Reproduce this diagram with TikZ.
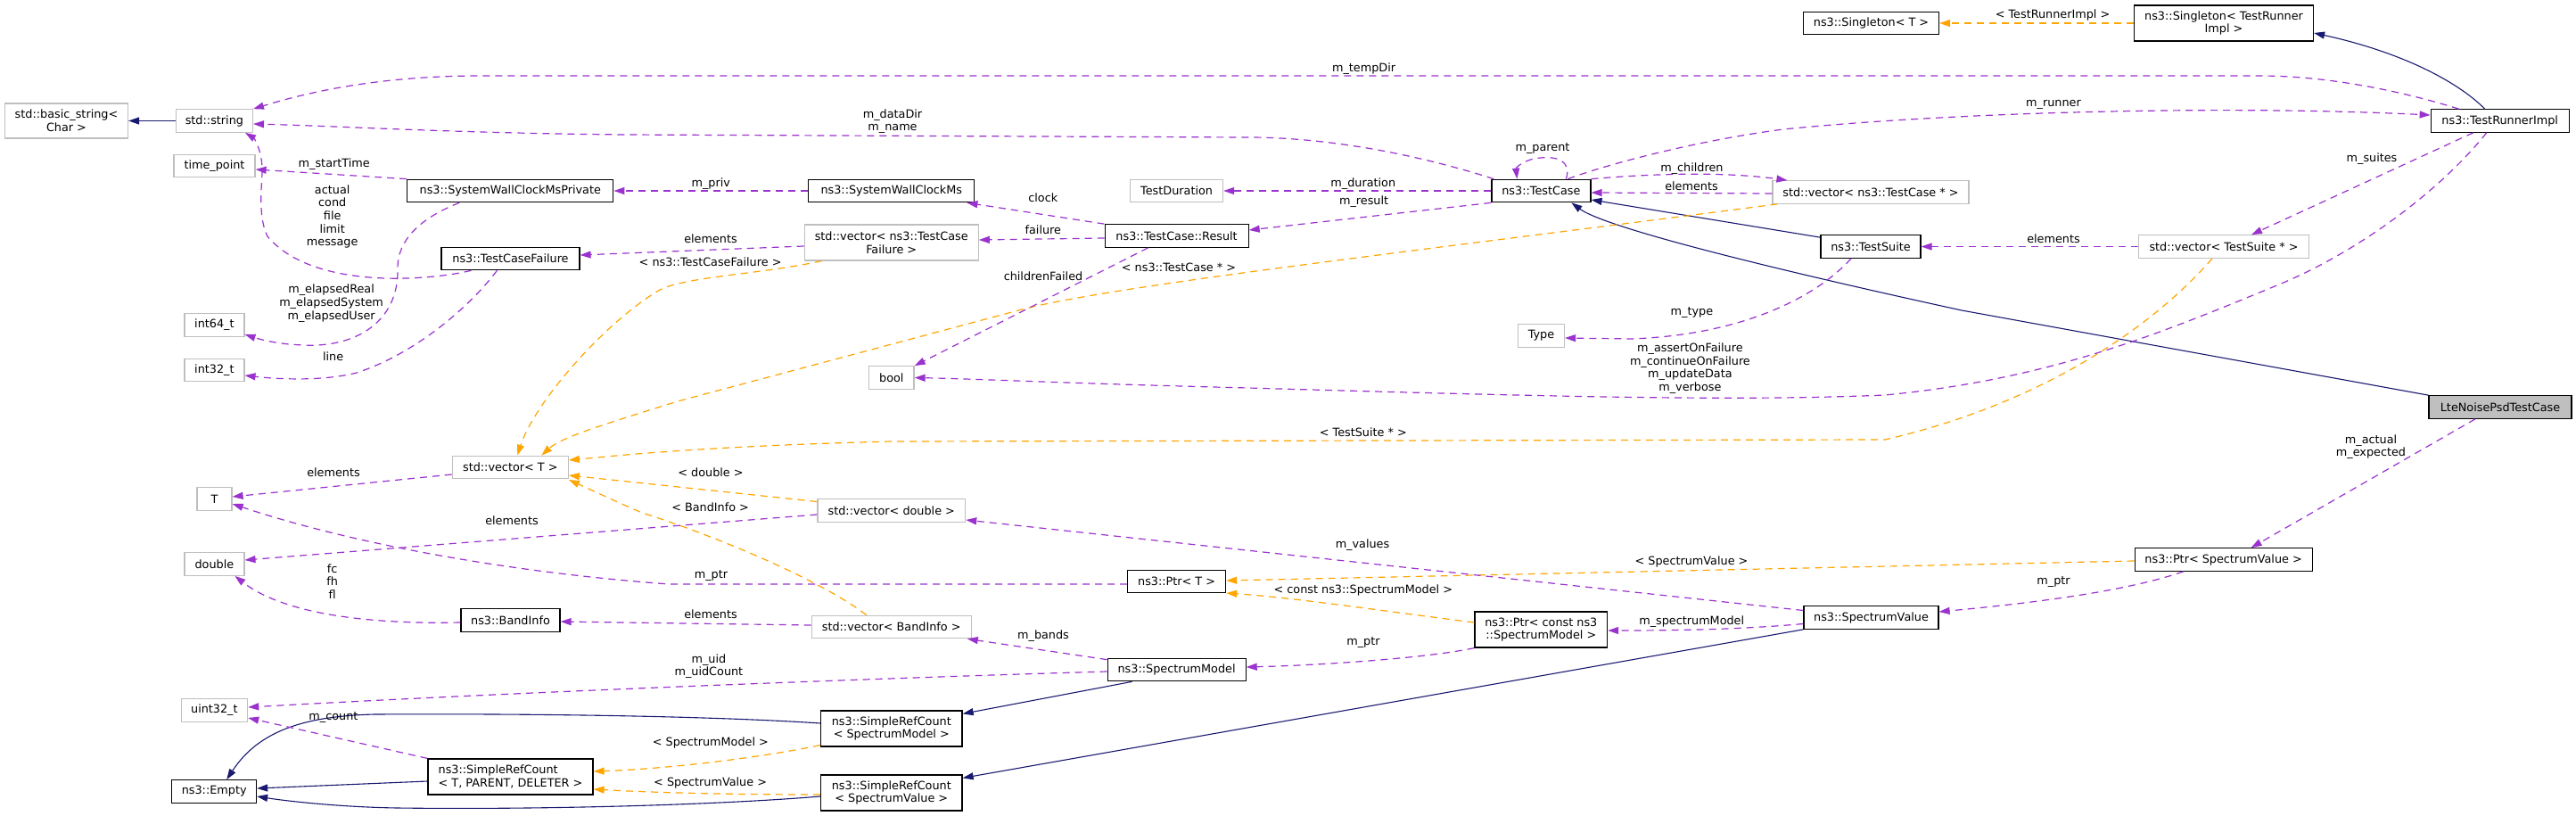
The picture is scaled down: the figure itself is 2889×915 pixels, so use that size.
\documentclass[tikz,border=0pt]{standalone}
\usepackage{fontspec}
\setmainfont{DejaVu Sans}
\usetikzlibrary{arrows.meta}
\definecolor{usecolor}{rgb}{0.604,0.196,0.804}
\definecolor{tplcolor}{rgb}{1.000,0.647,0.000}
\definecolor{inhcolor}{rgb}{0.098,0.098,0.439}
\definecolor{extcolor}{rgb}{0.749,0.749,0.749}
\tikzset{
  cls/.style={draw=black, fill=white, line width=1.2bp, minimum height=25.5bp, inner sep=0pt, align=center},
  extcls/.style={cls, draw=extcolor},
  maincls/.style={cls, fill=extcolor},
  usage/.style={draw=usecolor, line width=1.2bp, dash pattern=on 8bp off 6bp, -{Triangle[length=12bp,width=8bp]}},
  tmpl/.style={usage, draw=tplcolor},
  inh/.style={draw=inhcolor, line width=1.1bp, -{Triangle[length=12bp,width=8bp]}},
  lbl/.style={inner sep=0pt, align=center}
}
\begin{document}
\begin{tikzpicture}[x=1bp, y=-1bp, font=\fontsize{12.8bp}{14.7bp}\selectfont]
\fill[white] (0,0) rectangle (2889,915);
\useasboundingbox (0,0) rectangle (2889,915);
% column 1
\node[extcls, minimum width=138bp, minimum height=39bp] (bstr) at (74.5,135.5) {std::basic\_string<\\Char >};
\node[extcls, minimum width=86bp] (str) at (240.4,135.5) {std::string};
\node[extcls, minimum width=91bp] (tp) at (240.5,186) {time\_point};
\node[extcls, minimum width=67bp] (i64) at (240.4,364.5) {int64\_t};
\node[extcls, minimum width=67bp] (i32) at (240.4,415) {int32\_t};
\node[extcls, minimum width=39bp] (Tn) at (240.5,559.5) {T};
\node[extcls, minimum width=67bp] (dbl) at (240.4,632.5) {double};
\node[extcls, minimum width=74.5bp] (u32) at (240.4,796.5) {uint32\_t};
\node[cls, minimum width=94.7bp] (empty) at (240.2,887.5) {ns3::Empty};
% column 2
\node[cls, minimum width=231bp] (swcp) at (572.3,214) {ns3::SystemWallClockMsPrivate};
\node[cls, minimum width=155bp] (tcf) at (572.5,290) {ns3::TestCaseFailure};
\node[extcls, minimum width=130bp] (vecT) at (572.3,524) {std::vector< T >};
\node[cls, minimum width=111bp] (band) at (572.5,695.5) {ns3::BandInfo};
\node[cls, minimum width=185bp, minimum height=40bp, align=left] (srcT) at (572.5,871) {ns3::SimpleRefCount\\< T, PARENT, DELETER >};
% column 3
\node[cls, minimum width=186bp] (swc) at (999.8,214) {ns3::SystemWallClockMs};
\node[extcls, minimum width=195bp, minimum height=40bp] (vtcf) at (999.7,272) {std::vector< ns3::TestCase\\Failure >};
\node[extcls, minimum width=50.5bp] (bl) at (999.8,423.5) {bool};
\node[extcls, minimum width=165.6bp] (vdbl) at (999.8,572.5) {std::vector< double >};
\node[extcls, minimum width=179bp] (vband) at (999.7,703) {std::vector< BandInfo >};
\node[cls, minimum width=158.5bp, minimum height=40bp] (srcSM) at (999.8,817) {ns3::SimpleRefCount\\< SpectrumModel >};
\node[cls, minimum width=158.5bp, minimum height=40bp] (srcSV) at (999.8,889) {ns3::SimpleRefCount\\< SpectrumValue >};
% column 4
\node[extcls, minimum width=104bp] (tdur) at (1319.6,214) {TestDuration};
\node[cls, minimum width=161bp] (res) at (1319.6,264.5) {ns3::TestCase::Result};
\node[cls, minimum width=110bp] (ptrT) at (1319.6,652) {ns3::Ptr< T >};
\node[cls, minimum width=155bp] (sm) at (1319.6,751) {ns3::SpectrumModel};
% column 5
\node[cls, minimum width=111bp] (tc) at (1728.4,214) {ns3::TestCase};
\node[extcls, minimum width=52bp] (type) at (1728.5,376.5) {Type};
\node[cls, minimum width=148.6bp, minimum height=40bp] (ptrCSM) at (1728.3,706) {ns3::Ptr< const ns3\\::SpectrumModel >};
% column 6
\node[cls, minimum width=152bp] (sgT) at (2098.5,26) {ns3::Singleton< T >};
\node[extcls, minimum width=220bp] (vtc) at (2098,215.5) {std::vector< ns3::TestCase * >};
\node[cls, minimum width=112bp] (ts) at (2098,276.5) {ns3::TestSuite};
\node[cls, minimum width=151bp] (sv) at (2098.5,692.5) {ns3::SpectrumValue};
% column 7
\node[cls, minimum width=201bp, minimum height=40bp] (sgTR) at (2494,26) {ns3::Singleton< TestRunner\\Impl >};
\node[extcls, minimum width=191bp] (vts) at (2494,276.5) {std::vector< TestSuite * >};
\node[cls, minimum width=199bp] (ptrSV) at (2493.6,627.5) {ns3::Ptr< SpectrumValue >};
% column 8
\node[cls, minimum width=155bp] (tri) at (2803.7,135.5) {ns3::TestRunnerImpl};
\node[maincls, minimum width=160bp] (lte) at (2804,456.5) {LteNoisePsdTestCase};

% inheritance
\draw[inh] (str.west) -- (bstr.east);
\draw[inh] ([yshift=-3bp]ts.north west) -- ([yshift=-10bp]tc.east);
\draw[inh] (lte.north west) -- (2200,348) .. controls (1980,300) and (1800,255) .. ([xshift=34bp]tc.south);
\draw[inh] ([xshift=-17bp]tri.north) .. controls (2760,95) and (2700,60) .. ([yshift=-11bp]sgTR.east);
\draw[inh] ([yshift=-5bp]srcT.west) -- ([yshift=3.5bp]empty.east);
\draw[inh] ([yshift=6bp]srcSM.west) .. controls (800,803) and (600,800) .. (420,801) .. controls (340,803) and (290,820) .. ([xshift=14bp]empty.north);
\draw[inh] ([yshift=-4bp]srcSV.west) .. controls (800,903) and (600,908) .. (446,906) .. controls (380,905) and (320,898) .. ([yshift=-5.5bp]empty.east);
\draw[inh] ([xshift=-50bp]sm.south) -- ([yshift=-4bp]srcSM.north east);
\draw[inh] (sv.south west) -- ([yshift=-4bp]srcSV.north east);

% template instances
\draw[tmpl] (sgTR.west) -- (sgT.east);
\node[lbl] (l-sgt) at (2302,17) {< TestRunnerImpl >};
\draw[tmpl] ([xshift=6bp]vtc.south west) .. controls (1600,280) and (1250,320) .. (1146,347) -- (760,450) .. controls (680,475) and (630,490) .. ([xshift=35bp]vecT.north);
\node[lbl] (l-vtc) at (1322,300) {< ns3::TestCase * >};
\draw[tmpl] ([xshift=20bp]vtcf.south west) .. controls (850,308) and (770,310) .. (740,325) .. controls (680,360) and (600,450) .. ([xshift=8bp]vecT.north);
\node[lbl] (l-vtcf) at (796.6,294) {< ns3::TestCaseFailure >};
\draw[tmpl] ([xshift=-13bp]vts.south) .. controls (2420,360) and (2300,450) .. (2114,493) -- (1000,495) .. controls (800,500) and (700,510) .. ([yshift=8bp]vecT.east);
\node[lbl] (l-vts) at (1528.8,485) {< TestSuite * >};
\draw[tmpl] ([yshift=10bp]vdbl.west) -- ([yshift=-9bp]vecT.east);
\node[lbl] (l-vdbl) at (797,530) {< double >};
\draw[tmpl] ([xshift=-28bp]vband.north) .. controls (920,650) and (800,600) .. (720,575) .. controls (690,562) and (660,548) .. ([yshift=-14bp]vecT.east);
\node[lbl] (l-vband) at (796.6,569) {< BandInfo >};
\draw[tmpl] ([yshift=2bp]srcSM.south west) .. controls (850,850) and (750,862) .. ([yshift=6bp]srcT.east);
\node[lbl] (l-srcsm) at (796.9,833) {< SpectrumModel >};
\draw[tmpl] ([yshift=-2bp]srcSV.west) .. controls (800,891) and (720,888) .. ([yshift=-14bp]srcT.east);
\node[lbl] (l-srcsv) at (796.6,878) {< SpectrumValue >};
\draw[tmpl] ([yshift=8bp]ptrCSM.west) .. controls (1550,685) and (1450,670) .. ([yshift=-13bp]ptrT.east);
\node[lbl] (l-ptrcsm) at (1528.8,662) {< const ns3::SpectrumModel >};
\draw[tmpl] ([yshift=-1.5bp]ptrSV.west) -- ([yshift=1bp]ptrT.east);
\node[lbl] (l-ptrsv) at (1897,630) {< SpectrumValue >};

% members
\draw[usage] ([xshift=32bp]tri.north west) .. controls (2680,98) and (2600,85) .. (2534,85) -- (540,85) .. controls (420,85) and (340,105) .. (str.north east);
\node[lbl] (l-tempdir) at (1529.6,77) {m\_tempDir};
\draw[usage] ([xshift=3bp]tc.north west) .. controls (1580,170) and (1480,154) .. (1400,154) -- (700,151) .. controls (500,149) and (400,142) .. ([yshift=-3.5bp]str.east);
\node[lbl] (l-datadir) at (1001,136) {m\_dataDir\\m\_name};
\draw[usage] (swcp.north west) -- ([yshift=-4bp]tp.east);
\node[lbl] (l-start) at (374.7,184) {m\_startTime};
\draw[usage] ([xshift=34bp]tcf.south west) .. controls (480,315) and (350,325) .. (300,265) .. controls (290,245) and (293,215) .. (294,195) .. controls (295,170) and (285,155) .. ([xshift=-9bp]str.south east);
\node[lbl] (l-actual) at (372.7,243) {actual\\cond\\file\\limit\\message};
\draw[usage] ([xshift=59bp]swcp.south west) .. controls (470,245) and (446,270) .. (446,300) .. controls (448,360) and (400,390) .. (340,387) .. controls (310,386) and (290,380) .. ([yshift=-10.5bp]i64.east);
\node[lbl] (l-elapsed) at (371.6,340) {m\_elapsedReal\\m\_elapsedSystem\\m\_elapsedUser};
\draw[usage] ([xshift=63bp]tcf.south west) .. controls (530,340) and (470,395) .. (400,418) .. controls (360,428) and (310,425) .. ([yshift=-6bp]i32.east);
\node[lbl] (l-line) at (373.6,400) {line};
\draw[usage] (swc.west) -- (swcp.east);
\node[lbl] (l-priv) at (797.3,206) {m\_priv};
\draw[usage] (res.north west) -- ([xshift=-9bp]swc.south east);
\node[lbl] (l-clock) at (1169.8,222) {clock};
\draw[usage] ([yshift=-2.5bp]res.west) -- ([yshift=3bp]vtcf.east);
\node[lbl] (l-failure) at (1169.8,258) {failure};
\draw[usage] ([yshift=-4bp]vtcf.west) -- ([yshift=4bp]tcf.east);
\node[lbl] (l-elemtcf) at (797,268) {elements};
\draw[usage] (tc.west) -- (tdur.east);
\node[lbl] (l-duration) at (1528.8,206) {m\_duration};
\draw[usage] (tc.south west) -- ([yshift=6.5bp]res.east);
\node[lbl] (l-result) at (1529.6,226) {m\_result};
\draw[usage] ([xshift=28bp]tc.north) .. controls (1763,180) and (1745,175) .. (1728,177) .. controls (1710,178) and (1700,188) .. ([xshift=-27bp]tc.north);
\node[lbl] (l-parent) at (1730,167) {m\_parent};
\draw[usage] (tc.north east) .. controls (1850,195) and (1930,192) .. ([xshift=17bp]vtc.north west);
\node[lbl] (l-children) at (1897.4,189) {m\_children};
\draw[usage] ([yshift=-1.5bp]vtc.west) -- ([yshift=-2bp]tc.east);
\node[lbl] (l-elemtc) at (1897,209) {elements};
\draw[usage] ([xshift=30bp]tc.north) .. controls (1800,185) and (1900,158) .. (2000,145) .. controls (2200,125) and (2500,118) .. ([yshift=6.5bp]tri.west);
\node[lbl] (l-runner) at (2303,117) {m\_runner};
\draw[usage] ([xshift=-30bp]tri.south) -- ([xshift=31bp]vts.north);
\node[lbl] (l-suites) at (2660,178) {m\_suites};
\draw[usage] (vts.west) -- (ts.east);
\node[lbl] (l-elemts) at (2303,268) {elements};
\draw[usage] ([xshift=-22bp]ts.south) .. controls (2040,330) and (1960,375) .. (1830,380) -- ([yshift=-2.5bp]type.east);
\node[lbl] (l-type) at (1897.4,351) {m\_type};
\draw[usage] ([xshift=-15bp]tri.south) .. controls (2740,210) and (2650,280) .. (2556,319) .. controls (2420,375) and (2300,425) .. (2114,443) .. controls (1950,450) and (1750,445) .. (1400,435) .. controls (1200,430) and (1100,425) .. (bl.east);
\node[lbl] (l-flags) at (1895.4,413) {m\_assertOnFailure\\m\_continueOnFailure\\m\_updateData\\m\_verbose};
\draw[usage] ([xshift=-32bp]res.south) -- (bl.north east);
\node[lbl] (l-childfail) at (1170,310) {childrenFailed};
\draw[usage] ([yshift=-8bp]vecT.west) -- ([yshift=2.5bp]Tn.east);
\node[lbl] (l-elemT) at (374,530) {elements};
\draw[usage] ([yshift=-3bp]ptrT.west) -- (750,655) .. controls (550,640) and (380,605) .. ([yshift=-5.5bp]Tn.east);
\node[lbl] (l-ptrT) at (797.5,646) {m\_ptr};
\draw[usage] ([yshift=-4.5bp]vdbl.west) -- ([yshift=4.5bp]dbl.east);
\node[lbl] (l-elemdbl) at (574,584) {elements};
\draw[usage] ([yshift=-2.5bp]band.west) .. controls (420,700) and (320,690) .. ([xshift=23bp]dbl.south);
\node[lbl] (l-freq) at (372.7,652) {fc\\fh\\fl};
\draw[usage] ([yshift=2bp]vband.west) -- ([yshift=-1.5bp]band.east);
\node[lbl] (l-elemband) at (797,689) {elements};
\draw[usage] ([yshift=-2bp]sm.north west) -- ([xshift=-5bp]vband.south east);
\node[lbl] (l-bands) at (1170,713) {m\_bands};
\draw[usage] ([yshift=-2bp]sm.west) .. controls (1000,760) and (600,775) .. ([yshift=3.5bp]u32.east);
\node[lbl] (l-uid) at (794.9,747) {m\_uid\\m\_uidCount};
\draw[usage] (srcT.north west) -- ([yshift=-8.5bp]u32.east);
\node[lbl] (l-count) at (373.9,805) {m\_count};
\draw[usage] ([yshift=8bp]sv.west) -- ([yshift=-10.5bp]vdbl.east);
\node[lbl] (l-values) at (1528,611) {m\_values};
\draw[usage] ([yshift=-7bp]sv.west) .. controls (1960,705) and (1900,707) .. ([yshift=-1bp]ptrCSM.east);
\node[lbl] (l-specmodel) at (1897.2,697) {m\_spectrumModel};
\draw[usage] (ptrCSM.south west) .. controls (1600,738) and (1480,746) .. ([yshift=3bp]sm.east);
\node[lbl] (l-ptrcsm2) at (1529,721) {m\_ptr};
\draw[usage] ([xshift=-45bp]ptrSV.south) .. controls (2380,665) and (2260,678) .. ([yshift=6.5bp]sv.east);
\node[lbl] (l-ptrsv2) at (2303,653) {m\_ptr};
\draw[usage] ([xshift=-28bp]lte.south) -- ([xshift=31bp]ptrSV.north);
\node[lbl] (l-actexp) at (2659,501) {m\_actual\\m\_expected};
\end{tikzpicture}
\end{document}
